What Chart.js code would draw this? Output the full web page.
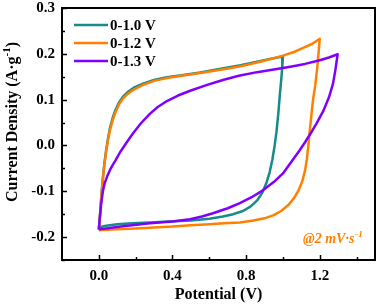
<!DOCTYPE html>
<html>
<head>
<meta charset="utf-8">
<script src="https://cdn.jsdelivr.net/npm/chart.js@4/dist/chart.umd.min.js"></script>
<style>
html,body{margin:0;padding:0;background:#fff;}
#wrap{width:378px;height:308px;position:relative;}
</style>
</head>
<body>
<div id="wrap"><canvas id="c" width="378" height="308"></canvas></div>
<script>
// ---- data ----
const seriesLabels = ["0-1.0 V", "0-1.2 V", "0-1.3 V"];
const seriesColors = ["#178a8a", "#ff8000", "#7f00ff"];

const v10_x = [0, 0.005, 0.012, 0.02, 0.03, 0.04, 0.05, 0.06, 0.075, 0.09, 0.11, 0.13, 0.155, 0.19, 0.24, 0.3, 0.37, 0.45, 0.55, 0.67, 0.77, 0.86, 0.93, 1.0,
               0.996, 0.99, 0.983, 0.975, 0.965, 0.955, 0.943, 0.928, 0.91, 0.888, 0.86, 0.825, 0.783, 0.73, 0.674, 0.6, 0.5, 0.38, 0.28, 0.18, 0.1, 0.04, 0.01, 0];
const v10_y = [-0.183, -0.16, -0.12, -0.08, -0.04, -0.01, 0.016, 0.037, 0.06, 0.077, 0.094, 0.106, 0.116, 0.126, 0.135, 0.143, 0.149, 0.153, 0.159, 0.168, 0.175, 0.183, 0.189, 0.194,
               0.17, 0.14, 0.11, 0.07, 0.03, 0.0, -0.03, -0.058, -0.082, -0.103, -0.12, -0.133, -0.143, -0.15, -0.155, -0.16, -0.164, -0.166, -0.168, -0.17, -0.172, -0.175, -0.178, -0.183];

const v12_x = [0, 0.005, 0.012, 0.02, 0.03, 0.04, 0.05, 0.06, 0.075, 0.09, 0.11, 0.13, 0.155, 0.19, 0.24, 0.3, 0.37, 0.45, 0.55, 0.67, 0.77, 0.86, 0.93, 1.0, 1.06, 1.11, 1.16, 1.2,
               1.193, 1.185, 1.175, 1.163, 1.153, 1.145, 1.138, 1.13, 1.12, 1.105, 1.085, 1.06, 1.03, 0.99, 0.95, 0.9, 0.84, 0.766, 0.68, 0.6, 0.5, 0.4, 0.3, 0.2, 0.1, 0];
const v12_y = [-0.185, -0.16, -0.12, -0.08, -0.042, -0.012, 0.012, 0.032, 0.055, 0.072, 0.09, 0.102, 0.112, 0.122, 0.132, 0.141, 0.147, 0.152, 0.158, 0.166, 0.173, 0.181, 0.188, 0.196, 0.204, 0.213, 0.222, 0.233,
               0.2, 0.165, 0.13, 0.098, 0.06, 0.03, 0.0, -0.03, -0.055, -0.078, -0.098, -0.115, -0.13, -0.143, -0.152, -0.159, -0.164, -0.168, -0.17, -0.172, -0.174, -0.177, -0.179, -0.181, -0.183, -0.185];

const v13_x = [0, 0.005, 0.012, 0.022, 0.032, 0.045, 0.06, 0.075, 0.09, 0.105, 0.12, 0.15, 0.185, 0.23, 0.277, 0.32, 0.37, 0.43, 0.5, 0.58, 0.674, 0.76, 0.86, 0.95, 1.04, 1.12, 1.2, 1.25, 1.297,
               1.285, 1.272, 1.25, 1.22, 1.185, 1.15, 1.12, 1.09, 1.045, 1.0, 0.95, 0.891, 0.83, 0.766, 0.7, 0.62, 0.56, 0.495, 0.4, 0.277, 0.18, 0.098, 0.04, 0];
const v13_y = [-0.183, -0.16, -0.13, -0.1, -0.082, -0.068, -0.054, -0.043, -0.033, -0.022, -0.012, 0.006, 0.026, 0.049, 0.069, 0.084, 0.097, 0.109, 0.12, 0.131, 0.143, 0.152, 0.16, 0.166, 0.172, 0.178, 0.186, 0.192, 0.199,
               0.165, 0.135, 0.105, 0.076, 0.05, 0.026, 0.007, -0.011, -0.036, -0.061, -0.08, -0.098, -0.113, -0.126, -0.137, -0.148, -0.155, -0.161, -0.166, -0.17, -0.174, -0.178, -0.181, -0.183];

const xTickValues = [0.0, 0.4, 0.8, 1.2];
const xMinorValues = [0.2, 0.6, 1.0, 1.4];
const yTickValues = [-0.2, -0.1, 0.0, 0.1, 0.2, 0.3];
const yMinorValues = [-0.25, -0.15, -0.05, 0.05, 0.15, 0.25];
const xTitle = "Potential (V)";
const annotationText = "@2 mV·s";
const annotationSup = "-1";

function pts(xs, ys){ return xs.map((x,i)=>({x:x, y:ys[i]})); }

const serif = "'Liberation Serif', 'Times New Roman', serif";

const framePlugin = {
  id: 'frame',
  afterDraw(chart){
    const ctx = chart.ctx, ca = chart.chartArea;
    const xs = chart.scales.x, ys = chart.scales.y;
    ctx.save();
    ctx.strokeStyle = '#000';
    ctx.lineWidth = 2;
    ctx.strokeRect(ca.left, ca.top, ca.right - ca.left, ca.bottom - ca.top);
    ctx.lineWidth = 1.5;
    ctx.beginPath();
    xTickValues.forEach(v=>{ const p = Math.round(xs.getPixelForValue(v))+0.5; ctx.moveTo(p, ca.bottom); ctx.lineTo(p, ca.bottom-5); });
    xMinorValues.forEach(v=>{ const p = Math.round(xs.getPixelForValue(v))+0.5; ctx.moveTo(p, ca.bottom); ctx.lineTo(p, ca.bottom-3); });
    yTickValues.forEach(v=>{ const p = Math.round(ys.getPixelForValue(v))+0.5; ctx.moveTo(ca.left, p); ctx.lineTo(ca.left+5, p); });
    yMinorValues.forEach(v=>{ const p = Math.round(ys.getPixelForValue(v))+0.5; ctx.moveTo(ca.left, p); ctx.lineTo(ca.left+3, p); });
    ctx.stroke();

    // legend
    ctx.font = "bold 15px " + serif;
    ctx.textBaseline = 'middle';
    ctx.textAlign = 'left';
    chart.data.datasets.forEach((ds, i)=>{
      const y = ca.top + 17 + i*18;
      ctx.strokeStyle = ds.borderColor;
      ctx.lineWidth = 2.5;
      ctx.beginPath(); ctx.moveTo(ca.left + 12, y); ctx.lineTo(ca.left + 46, y); ctx.stroke();
      ctx.fillStyle = '#000';
      ctx.fillText(ds.label, ca.left + 48, y + 1);
    });

    // annotation
    ctx.fillStyle = '#ff8000';
    ctx.font = "italic bold 14px " + serif;
    ctx.textBaseline = 'alphabetic';
    const ax = ca.left + 241, ay = ca.bottom - 17;
    ctx.fillText(annotationText, ax, ay);
    const w = ctx.measureText(annotationText).width;
    ctx.font = "italic bold 9px " + serif;
    ctx.fillText(annotationSup, ax + w + 1, ay - 6);
    ctx.restore();
  }
};

const yTitlePlugin = {
  id: 'ytitle',
  afterDraw(chart){
    const ctx = chart.ctx, ca = chart.chartArea;
    ctx.save();
    ctx.translate(13, (ca.top + ca.bottom)/2 - 12);
    ctx.rotate(-Math.PI/2);
    ctx.fillStyle = '#000';
    ctx.textBaseline = 'middle';
    const main = "Current Density (A·g";
    const sup = "-1";
    const end = ")";
    ctx.font = "bold 16px " + serif;
    const w1 = ctx.measureText(main).width;
    ctx.font = "bold 11px " + serif;
    const w2 = ctx.measureText(sup).width;
    ctx.font = "bold 16px " + serif;
    const w3 = ctx.measureText(end).width;
    let x0 = -(w1 + w2 + w3)/2;
    ctx.textAlign = 'left';
    ctx.fillText(main, x0, 0);
    ctx.font = "bold 11px " + serif;
    ctx.fillText(sup, x0 + w1, -6);
    ctx.font = "bold 16px " + serif;
    ctx.fillText(end, x0 + w1 + w2, 0);
    ctx.restore();
  }
};

new Chart(document.getElementById('c'), {
  type: 'scatter',
  data: {
    datasets: [
      { label: seriesLabels[0], data: pts(v10_x, v10_y), borderColor: seriesColors[0], order: 3 },
      { label: seriesLabels[1], data: pts(v12_x, v12_y), borderColor: seriesColors[1], order: 2 },
      { label: seriesLabels[2], data: pts(v13_x, v13_y), borderColor: seriesColors[2], order: 1 }
    ].map(d => Object.assign(d, { showLine: true, pointRadius: 0, borderWidth: 2.5, tension: 0, borderJoinStyle: 'round', fill: false }))
  },
  options: {
    responsive: false,
    animation: false,
    devicePixelRatio: 1,
    layout: { padding: { top: 8, right: 3, left: 0, bottom: 0 } },
    plugins: { legend: { display: false }, tooltip: { enabled: false } },
    scales: {
      x: {
        type: 'linear', min: -0.2, max: 1.5,
        afterBuildTicks: s => { s.ticks = xTickValues.map(v => ({ value: v })); },
        afterFit: s => { s.height = 48; s.paddingLeft = 0; s.paddingRight = 0; },
        grid: { display: false, drawTicks: false },
        border: { display: false },
        ticks: { color: '#000', padding: 7, font: { family: serif, size: 15, weight: 'bold' }, callback: v => Number(v).toFixed(1) },
        title: { display: true, text: xTitle, color: '#000', font: { family: serif, size: 16, weight: 'bold' }, padding: { top: 4 } }
      },
      y: {
        type: 'linear', min: -0.25, max: 0.3,
        afterBuildTicks: s => { s.ticks = yTickValues.map(v => ({ value: v })); },
        afterFit: s => { s.width = 62; s.paddingTop = 0; s.paddingBottom = 0; },
        grid: { display: false, drawTicks: false },
        border: { display: false },
        ticks: { color: '#000', padding: 7, font: { family: serif, size: 15, weight: 'bold' }, callback: v => Number(v).toFixed(1) }
      }
    }
  },
  plugins: [framePlugin, yTitlePlugin]
});
</script>
</body>
</html>
